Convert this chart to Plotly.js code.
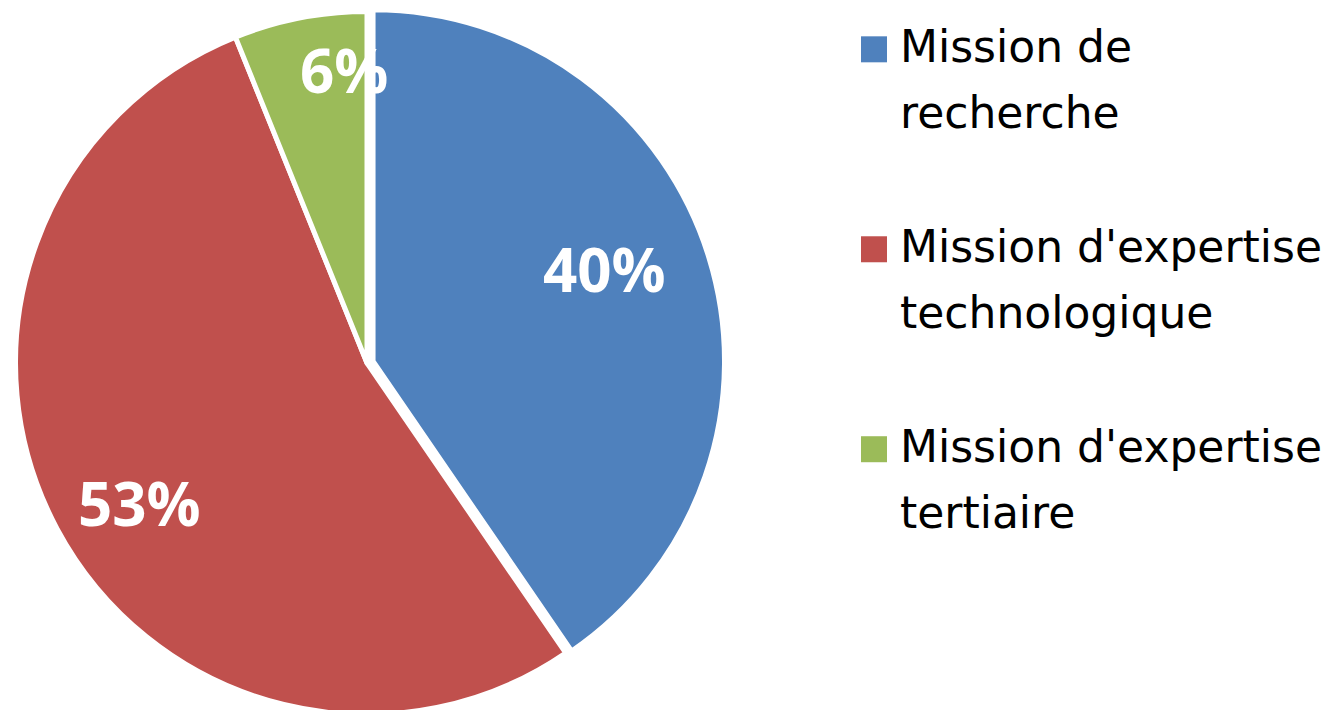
<!DOCTYPE html>
<html>
<head>
<meta charset="utf-8">
<script src="https://cdn.plot.ly/plotly-3.0.1.min.js"></script>
<style>
html, body { margin: 0; padding: 0; overflow: hidden; background: #fff; }
#chart { width: 1328px; height: 730px; }
</style>
</head>
<body>
<div id="chart"></div>
<script>
var categories = [
  "Mission de<br>recherche",
  "Mission d'expertise<br>technologique",
  "Mission d'expertise<br>tertiaire"
];
var shares = [40.4, 53.4, 6.1];
var colors = ["#4F81BD", "#C0504D", "#9BBB59"];

var W = 1328, H = 730;
var dom = { x: [0.00693, 0.54578], y: [0.0126, 0.99288] };
var pulls = [0.018, 0, 0];
// label placement style (relative to the slice geometry)
var labelRadius = [0.71, 0.76, 0.835];
var labelAngleShift = [-4.5, -3.5, 6.5];

function legendLabel(s) {
  return s.split("<br>").map(function (l) {
    return '<span style="font-size:44px">' + l + '</span>';
  }).join("<br>") + "<br> ";
}

var total = shares.reduce(function (a, b) { return a + b; }, 0);
var cx = (dom.x[0] + dom.x[1]) / 2 * W;
var cy = H - (dom.y[0] + dom.y[1]) / 2 * H;
var half = Math.min((dom.x[1] - dom.x[0]) * W, (dom.y[1] - dom.y[0]) * H) / 2;
var maxPull = Math.max.apply(null, pulls);
var R = half / (1 + maxPull);

var annotations = [];
var cum = 0;
shares.forEach(function (v, i) {
  var mid = (cum + v / 2) / total * 2 * Math.PI;
  cum += v;
  var ox = cx + R * pulls[i] * Math.sin(mid);
  var oy = cy - R * pulls[i] * Math.cos(mid);
  var a = mid + labelAngleShift[i] * Math.PI / 180;
  var r = R * labelRadius[i];
  var px = ox + r * Math.sin(a);
  var py = oy - r * Math.cos(a);
  annotations.push({
    xref: "paper", yref: "paper",
    x: px / W, y: 1 - py / H,
    xanchor: "center", yanchor: "middle",
    text: Math.round(v / total * 100) + "%",
    showarrow: false,
    font: { family: "Open Sans, sans-serif", size: 60, color: "#ffffff", weight: "bold" }
  });
});

var trace = {
  type: "pie",
  labels: categories.map(legendLabel),
  values: shares,
  sort: false,
  direction: "clockwise",
  rotation: 0,
  pull: pulls,
  marker: { colors: colors, line: { color: "#ffffff", width: 5 } },
  textinfo: "none",
  hoverinfo: "none",
  domain: dom
};

var layout = {
  width: W,
  height: H,
  margin: { l: 0, r: 0, t: 0, b: 0 },
  paper_bgcolor: "#ffffff",
  showlegend: true,
  annotations: annotations,
  legend: {
    x: 0.6476, xanchor: "left",
    y: 0.9959, yanchor: "top",
    valign: "top",
    font: { family: "DejaVu Sans, sans-serif", size: 50.5, color: "#000000" },
    bgcolor: "rgba(0,0,0,0)"
  }
};

Plotly.newPlot("chart", [trace], layout, { displayModeBar: false, staticPlot: true }).then(function () {
  document.querySelectorAll(".legendpie").forEach(function (p) {
    p.setAttribute("d", "M7,20H-19V-6H7Z");
    p.style.strokeWidth = "0";
  });
});
</script>
</body>
</html>
